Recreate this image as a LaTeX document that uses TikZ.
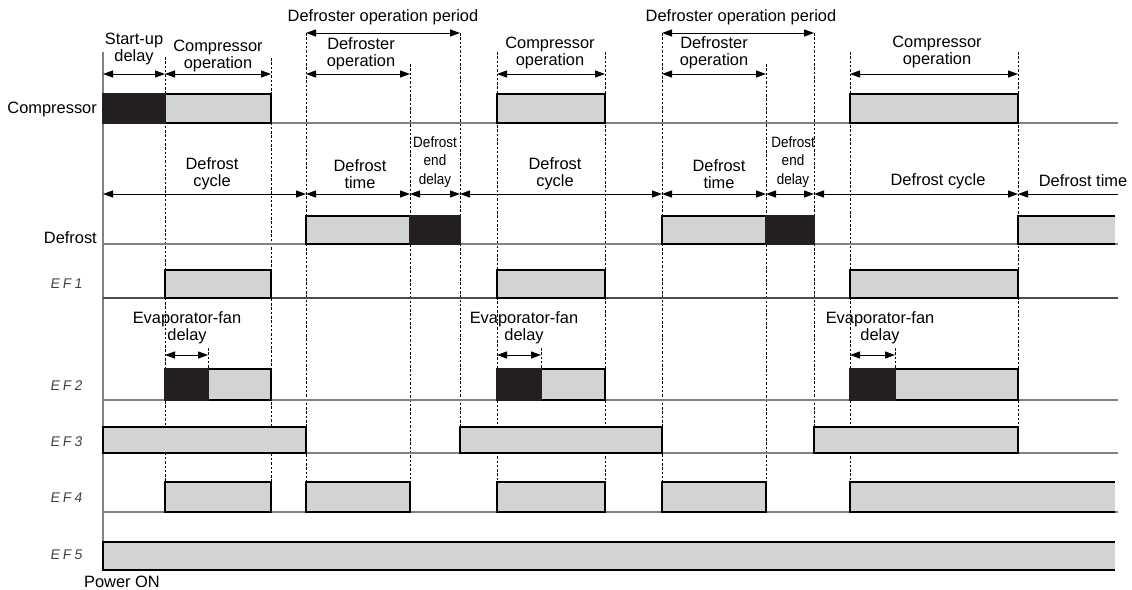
\documentclass[tikz,border=0pt]{standalone}
\usepackage{fontspec}
\setmainfont{Liberation Sans}
\newfontfamily\segfont[FakeSlant=0.15,LetterSpace=22]{Liberation Sans}
\newfontfamily\narrowfont[FakeStretch=0.9]{Liberation Sans}
\usetikzlibrary{arrows.meta}

\definecolor{onfill}{HTML}{D1D3D4}
\definecolor{delayfill}{HTML}{231F20}
\definecolor{levelgray}{HTML}{808285}
\definecolor{seggray}{HTML}{414042}

\begin{document}
\begin{tikzpicture}[x=1pt, y=-1pt,
  onbar/.style={fill=onfill, draw=black, line width=1.3pt},
  delaybar/.style={fill=delayfill, draw=delayfill, line width=1.3pt},
  level/.style={draw=levelgray, line width=1.5pt},
  guide/.style={line width=0.7pt, dash pattern=on 2.5pt off 1.8pt},
  span/.style={<->, >={Triangle[length=10pt,width=7pt]}, line width=1pt},
  lbl/.style={font=\fontsize{16.4}{17}\selectfont, align=center, inner sep=0pt},
  small/.style={font=\narrowfont\fontsize{15}{18.5}\selectfont, align=center, inner sep=0pt},
  row/.style={font=\fontsize{16.4}{17}\selectfont, anchor=east, inner sep=0pt},
  seg/.style={font=\segfont\fontsize{14}{15}\selectfont, text=seggray, inner sep=0pt}]
  \useasboundingbox (0,0) rectangle (1132,589);

  % time marks and arrow levels
  \foreach \n/\x in {t0/103, t1/165, t2/271, t3/306, t4/410, t5/460, t6/497,
      t7/605, t8/662, t9/766, t10/814, t11/850, t12/1018,
      f1/208, f2/541, f3/895, tend/1118}
    \coordinate (\n) at (\x,0);
  \coordinate (period) at (0,33);
  \coordinate (oper) at (0,74);
  \coordinate (dfr) at (0,194);
  \coordinate (fan) at (0,355);

  % dotted guides
  \foreach \n/\ya/\yb in {t1/57/483, t2/58/483, t3/33/483, t4/64/483,
      t5/33/428, t6/52/483, t7/52/483, t8/33/483, t9/64/483, t10/33/428,
      t11/52/483, t12/52/428, f1/348/369, f2/348/369, f3/348/369}
    \draw[guide] (\n |- 0,\ya) -- (\n |- 0,\yb);

  % levels
  \draw[level] (t0 |- 0,52) -- (t0 |- 0,553);
  \foreach \y in {123,244,400,453,512}
    \draw[level] (t0 |- 0,\y) -- (tend |- 0,\y);
  \draw[level, draw=black!70, line width=1.2pt] (t0 |- 0,298) -- (tend |- 0,298);

  % 1. compressor
  \draw[onbar] (165,94) rectangle (271,123);
  \draw[delaybar] (103,94) rectangle (165,123);
  \foreach \a/\b in {497/605, 850/1018}
    \draw[onbar] (\a,94) rectangle (\b,123);

  % 2. defrost
  \foreach \a/\b/\c in {306/410/460, 662/766/814} {
    \draw[onbar] (\a,216) rectangle (\b,244);
    \draw[delaybar] (\b,216) rectangle (\c,244);
  }
  \fill[onfill] (1018,216) rectangle (1115,244);
  \draw[line width=1.3pt] (1115,216) -- (1018,216) -- (1018,244) -- (1115,244);

  % 3. fans
  \foreach \a/\b in {165/271, 497/605, 850/1018}
    \draw[onbar] (\a,270) rectangle (\b,298);
  \foreach \a/\b/\c in {165/208/271, 497/541/605, 850/895/1018} {
    \draw[onbar] (\b,369) rectangle (\c,400);
    \draw[delaybar] (\a,369) rectangle (\b,400);
  }
  \foreach \a/\b in {103/306, 460/662, 814/1018}
    \draw[onbar] (\a,427) rectangle (\b,453);
  \foreach \a/\b in {165/271, 306/410, 497/605, 662/766}
    \draw[onbar] (\a,482) rectangle (\b,512);
  \fill[onfill] (850,482) rectangle (1115,512);
  \draw[line width=1.3pt] (1115,482) -- (850,482) -- (850,512) -- (1115,512);
  \fill[onfill] (103,542) rectangle (1115,570);
  \draw[line width=1.3pt] (1115,542) -- (103,542) -- (103,570) -- (1115,570);

  % spans
  \foreach \a/\b in {t3/t5, t8/t10}
    \draw[span] (\a |- period) -- (\b |- period);
  \foreach \a/\b in {t0/t1, t1/t2, t3/t4, t6/t7, t8/t9, t11/t12}
    \draw[span] (\a |- oper) -- (\b |- oper);
  \foreach \a/\b in {t0/t3, t3/t4, t4/t5, t5/t8, t8/t9, t9/t10, t10/t12}
    \draw[span] (\a |- dfr) -- (\b |- dfr);
  \draw[span, <-] (t12 |- dfr) -- (tend |- dfr);
  \foreach \a/\b in {t1/f1, t6/f2, t11/f3}
    \draw[span] (\a |- fan) -- (\b |- fan);

  % labels
  \node[lbl] (period1) at (383,17) {Defroster operation period};
  \node[lbl] (period2) at (741,17) {Defroster operation period};
  \node[lbl] (startup) at (134,49) {Start-up\\delay};
  \node[lbl] (compop1) at (218,56) {Compressor\\operation};
  \node[lbl] (defop1) at (361,54) {Defroster\\operation};
  \node[lbl] (compop2) at (550,53) {Compressor\\operation};
  \node[lbl] (defop2) at (714,53) {Defroster\\operation};
  \node[lbl] (compop3) at (937,52) {Compressor\\operation};

  \node[lbl] (dcycle1) at (212,174) {Defrost\\cycle};
  \node[lbl] (dtime1) at (360,174) {Defrost\\time};
  \node[small] (dend1) at (435,162) {Defrost\\end\\delay};
  \node[lbl] (dcycle2) at (555,174) {Defrost\\cycle};
  \node[lbl] (dtime2) at (719,174) {Defrost\\time};
  \node[small] (dend2) at (793,162) {Defrost\\end\\delay};
  \node[lbl] (dcycle3) at (938,181) {Defrost cycle};
  \node[lbl] (dtime3) at (1083,181) {Defrost time};

  \foreach \x [count=\i] in {187,524,880}
    \node[lbl] (fandelay\i) at (\x,328) {Evaporator-fan\\delay};

  \node[row] (compressor) at (97,109) {Compressor};
  \node[row] (defrost) at (97,238) {Defrost};
  \foreach \i/\y in {1/284, 2/386, 3/442, 4/498, 5/555}
    \node[seg] (ef\i) at (66,\y) {EF\i};
  \node[lbl] (poweron) at (122,582) {Power ON};
\end{tikzpicture}
\end{document}
